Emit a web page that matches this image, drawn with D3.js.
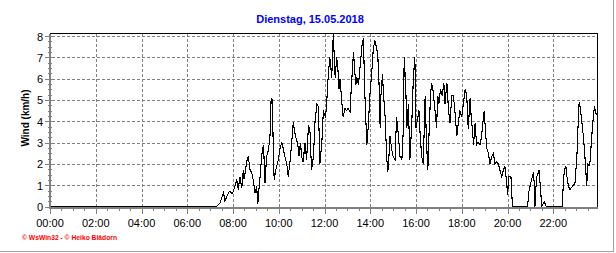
<!DOCTYPE html>
<html>
<head>
<meta charset="utf-8">
<script src="https://cdn.jsdelivr.net/npm/d3@7"></script>
<style>
  body { margin: 0; background: #fff; }
  svg { display: block; }
  text { font-family: "Liberation Sans", Arial, sans-serif; }
</style>
</head>
<body>
<svg id="chart"></svg>
<script>
// chart text
const chartTitle = "Dienstag, 15.05.2018";
const yLabel = "Wind (km/h)";
const footer = "© WsWin32 - © Heiko Blädorn";

// tick labels
const xTickLabels = ["00:00","02:00","04:00","06:00","08:00","10:00","12:00","14:00","16:00","18:00","20:00","22:00"];
const yTicks = [0, 1, 2, 3, 4, 5, 6, 7, 8];

// minutes after midnight and wind speed (km/h)
const minutes = [0,437,446,455,459,468,472,477,481,485,490,494,498,503,507,509,512,516,520,525,529,533,538,542,545,548,551,555,560,564,568,573,577,580,583,586,588,592,599,603,608,612,616,621,625,630,634,638,641,644,650,653,657,660,664,669,673,678,682,686,691,695,700,704,708,713,717,719,723,726,730,734,739,743,748,752,755,758,761,765,769,774,778,782,787,791,796,798,802,805,809,813,818,822,826,831,835,839,844,848,852,857,860,863,866,868,872,875,879,883,886,889,892,896,900,905,909,914,918,923,927,929,933,936,940,944,949,953,957,960,963,968,971,975,979,984,987,991,994,998,1001,1005,1010,1014,1017,1020,1024,1029,1033,1036,1041,1045,1049,1054,1058,1062,1067,1071,1075,1080,1084,1089,1093,1097,1102,1104,1108,1111,1115,1119,1123,1128,1132,1137,1139,1143,1146,1150,1154,1159,1163,1167,1172,1176,1180,1185,1189,1193,1198,1200,1204,1209,1213,1253,1255,1259,1263,1268,1270,1272,1274,1277,1281,1283,1286,1290,1294,1297,1300,1303,1344,1346,1349,1353,1356,1360,1364,1368,1373,1377,1382,1386,1388,1391,1395,1399,1403,1408,1410,1414,1416,1421,1425,1428,1431,1435];
const windKmh = [0,0,0.17,0.64,0.25,0.64,0.72,0.6,0.72,0.95,1.26,0.8,1.4,0.86,1.7,1.3,1.6,2.1,2.35,1.7,1.6,1.25,0.64,0.95,0.1,0.8,1.4,2.35,2.9,1.1,2.35,2.65,3.3,5.08,5.0,2.5,1.25,1.7,2.2,2.7,3.0,2.7,2.35,2.0,1.4,2.2,3.0,3.95,3.6,3.3,2.9,2.35,3.0,2.35,2.1,3.0,2.2,3.8,3.5,1.7,2.35,3.95,4.8,4.7,2.0,3.0,4.5,4.35,4.2,4.95,6.2,7.0,6.05,8.1,6.05,7.0,6.5,5.5,6.0,4.95,4.2,4.6,4.5,4.6,4.45,5.8,7.25,6.7,5.7,6.05,5.7,6.5,7.5,7.9,5.2,2.9,3.8,5.2,6.3,7.4,7.8,7.4,7.0,5.8,3.7,5.2,6.2,5.2,4.2,2.35,1.6,2.35,3.3,2.7,2.35,2.2,4.2,3.3,2.35,2.2,3.7,7.0,5.7,3.7,4.8,2.2,3.95,6.0,7.0,3.7,4.0,4.5,3.3,2.35,2.0,5.2,3.3,1.7,3.3,5.2,5.8,5.4,4.5,3.7,5.2,4.8,5.5,5.2,5.8,4.8,5.8,4.6,3.9,5.2,5.2,4.5,3.3,3.9,4.5,4.2,4.8,5.5,5.2,3.65,5.1,4.4,3.6,2.9,3.9,2.9,3.0,2.9,3.3,4.2,4.5,3.3,2.7,2.5,2.0,2.35,2.5,2.0,2.1,2.0,1.7,1.4,1.7,1.9,1.1,0.55,1.4,1.4,0,0,0.6,0.95,1.25,1.6,1.1,0,0.8,1.4,1.6,1.7,0.95,0,0.15,0.2,0.05,0,0,0.95,1.7,1.9,1.4,0.95,0.8,0.9,1.0,1.1,2.35,4.2,4.9,4.6,3.95,3.3,2.35,0.95,2.0,1.9,2.0,3.3,4.2,4.7,4.4,4.3];

class WindChart {
    constructor(_config, _data) {
        this.config = {
            parentElement: _config.parentElement,
            containerWidth: _config.containerWidth || 616,
            containerHeight: _config.containerHeight || 253
        }
        this.data = _data;
        this.initVis();
    }

    initVis() {
        let vis = this;

        vis.svg = d3.select(vis.config.parentElement)
            .attr('width', vis.config.containerWidth)
            .attr('height', vis.config.containerHeight);

        // plot box edges
        vis.left = 50;
        vis.right = 597.5;
        vis.top = 33.5;
        vis.bottom = 206.5;

        vis.x = d3.scaleLinear().domain([0, 1440]).range([50, 599]);
        vis.y = d3.scaleLinear().domain([0, 8]).range([206.5, 36]);

        vis.renderVis();
    }

    renderVis() {
        let vis = this;
        const snap = v => Math.round(v) + 0.5;

        // outer grey frame (right + bottom)
        vis.svg.append('line')
            .attr('x1', 613.5).attr('x2', 613.5).attr('y1', 0).attr('y2', 252)
            .attr('stroke', '#a0a0a0');
        vis.svg.append('line')
            .attr('x1', 0).attr('x2', 614).attr('y1', 251.5).attr('y2', 251.5)
            .attr('stroke', '#a0a0a0');

        const grid = vis.svg.append('g')
            .attr('stroke', '#808080')
            .attr('stroke-dasharray', '3,2')
            .attr('shape-rendering', 'crispEdges');

        // horizontal grid
        grid.selectAll('.hgrid')
            .data(yTicks.filter(d => d > 0))
            .enter().append('line')
            .attr('x1', vis.left + 2).attr('x2', vis.right)
            .attr('y1', d => snap(vis.y(d))).attr('y2', d => snap(vis.y(d)));

        // vertical grid every 2 h
        grid.selectAll('.vgrid')
            .data(d3.range(120, 1440, 120))
            .enter().append('line')
            .attr('x1', d => snap(vis.x(d))).attr('x2', d => snap(vis.x(d)))
            .attr('y1', vis.top).attr('y2', vis.bottom);

        // top and right border
        vis.svg.append('path')
            .attr('d', `M${vis.left},${vis.top}H${vis.right}V${vis.bottom + 1}`)
            .attr('fill', 'none')
            .attr('stroke', '#000')
            .attr('shape-rendering', 'crispEdges');

        // data line
        vis.svg.append('clipPath').attr('id', 'plotclip')
            .append('rect')
            .attr('x', vis.left).attr('y', vis.top)
            .attr('width', vis.right - vis.left).attr('height', vis.bottom - vis.top + 1);

        const line = d3.line()
            .x(d => vis.x(d.m))
            .y(d => vis.y(d.v));

        vis.svg.append('path')
            .datum(vis.data)
            .attr('clip-path', 'url(#plotclip)')
            .attr('d', line)
            .attr('fill', 'none')
            .attr('stroke', '#000')
            .attr('stroke-width', 1.1)
            .attr('shape-rendering', 'crispEdges');

        // axes in grey
        const axes = vis.svg.append('g')
            .attr('stroke', '#808080')
            .attr('shape-rendering', 'crispEdges');

        axes.append('line')
            .attr('x1', 50).attr('x2', 50).attr('y1', vis.top).attr('y2', 209)
            .attr('stroke-width', 2);
        axes.append('line')
            .attr('x1', 49).attr('x2', vis.right).attr('y1', 208).attr('y2', 208)
            .attr('stroke-width', 2);

        // y ticks: majors and quarters
        axes.selectAll('.ytick')
            .data(d3.range(0, 8.01, 0.25))
            .enter().append('line')
            .attr('x1', d => Number.isInteger(d) ? 45 : 48)
            .attr('x2', 52)
            .attr('y1', d => snap(vis.y(d))).attr('y2', d => snap(vis.y(d)));

        // x ticks: majors every 2 h, minors every 30 min
        axes.selectAll('.xtick')
            .data(d3.range(0, 1440, 30))
            .enter().append('line')
            .attr('x1', d => snap(vis.x(d))).attr('x2', d => snap(vis.x(d)))
            .attr('y1', 209)
            .attr('y2', d => d % 120 === 0 ? 214 : 211);

        // tick labels
        vis.svg.selectAll('.xlabel')
            .data(xTickLabels)
            .enter().append('text')
            .attr('x', (d, i) => vis.x(i * 120))
            .attr('y', 227)
            .attr('text-anchor', 'middle')
            .attr('font-size', '11px')
            .attr('fill', '#000')
            .text(d => d);

        vis.svg.selectAll('.ylabel')
            .data(yTicks)
            .enter().append('text')
            .attr('x', 43)
            .attr('y', d => vis.y(d) + 4.5)
            .attr('text-anchor', 'end')
            .attr('font-size', '11px')
            .attr('fill', '#000')
            .text(d => d);

        // title
        vis.svg.append('text')
            .attr('x', 310)
            .attr('y', 23)
            .attr('text-anchor', 'middle')
            .attr('font-size', '11px')
            .attr('font-weight', 'bold')
            .attr('fill', '#0000ff')
            .text(chartTitle);

        // y axis label
        vis.svg.append('text')
            .attr('transform', 'translate(29,118) rotate(-90)')
            .attr('text-anchor', 'middle')
            .attr('font-size', '10px')
            .attr('font-weight', 'bold')
            .attr('fill', '#000')
            .text(yLabel);

        // footer
        vis.svg.append('text')
            .attr('x', 22)
            .attr('y', 240)
            .attr('font-size', '7px')
            .attr('font-weight', 'bold')
            .attr('font-family', 'DejaVu Sans')
            .attr('textLength', 95)
            .attr('lengthAdjust', 'spacingAndGlyphs')
            .attr('fill', '#ff0000')
            .text(footer);
    }
}

const series = minutes.map((m, i) => ({m: m, v: windKmh[i]}));
new WindChart({parentElement: '#chart'}, series);
</script>
</body>
</html>
